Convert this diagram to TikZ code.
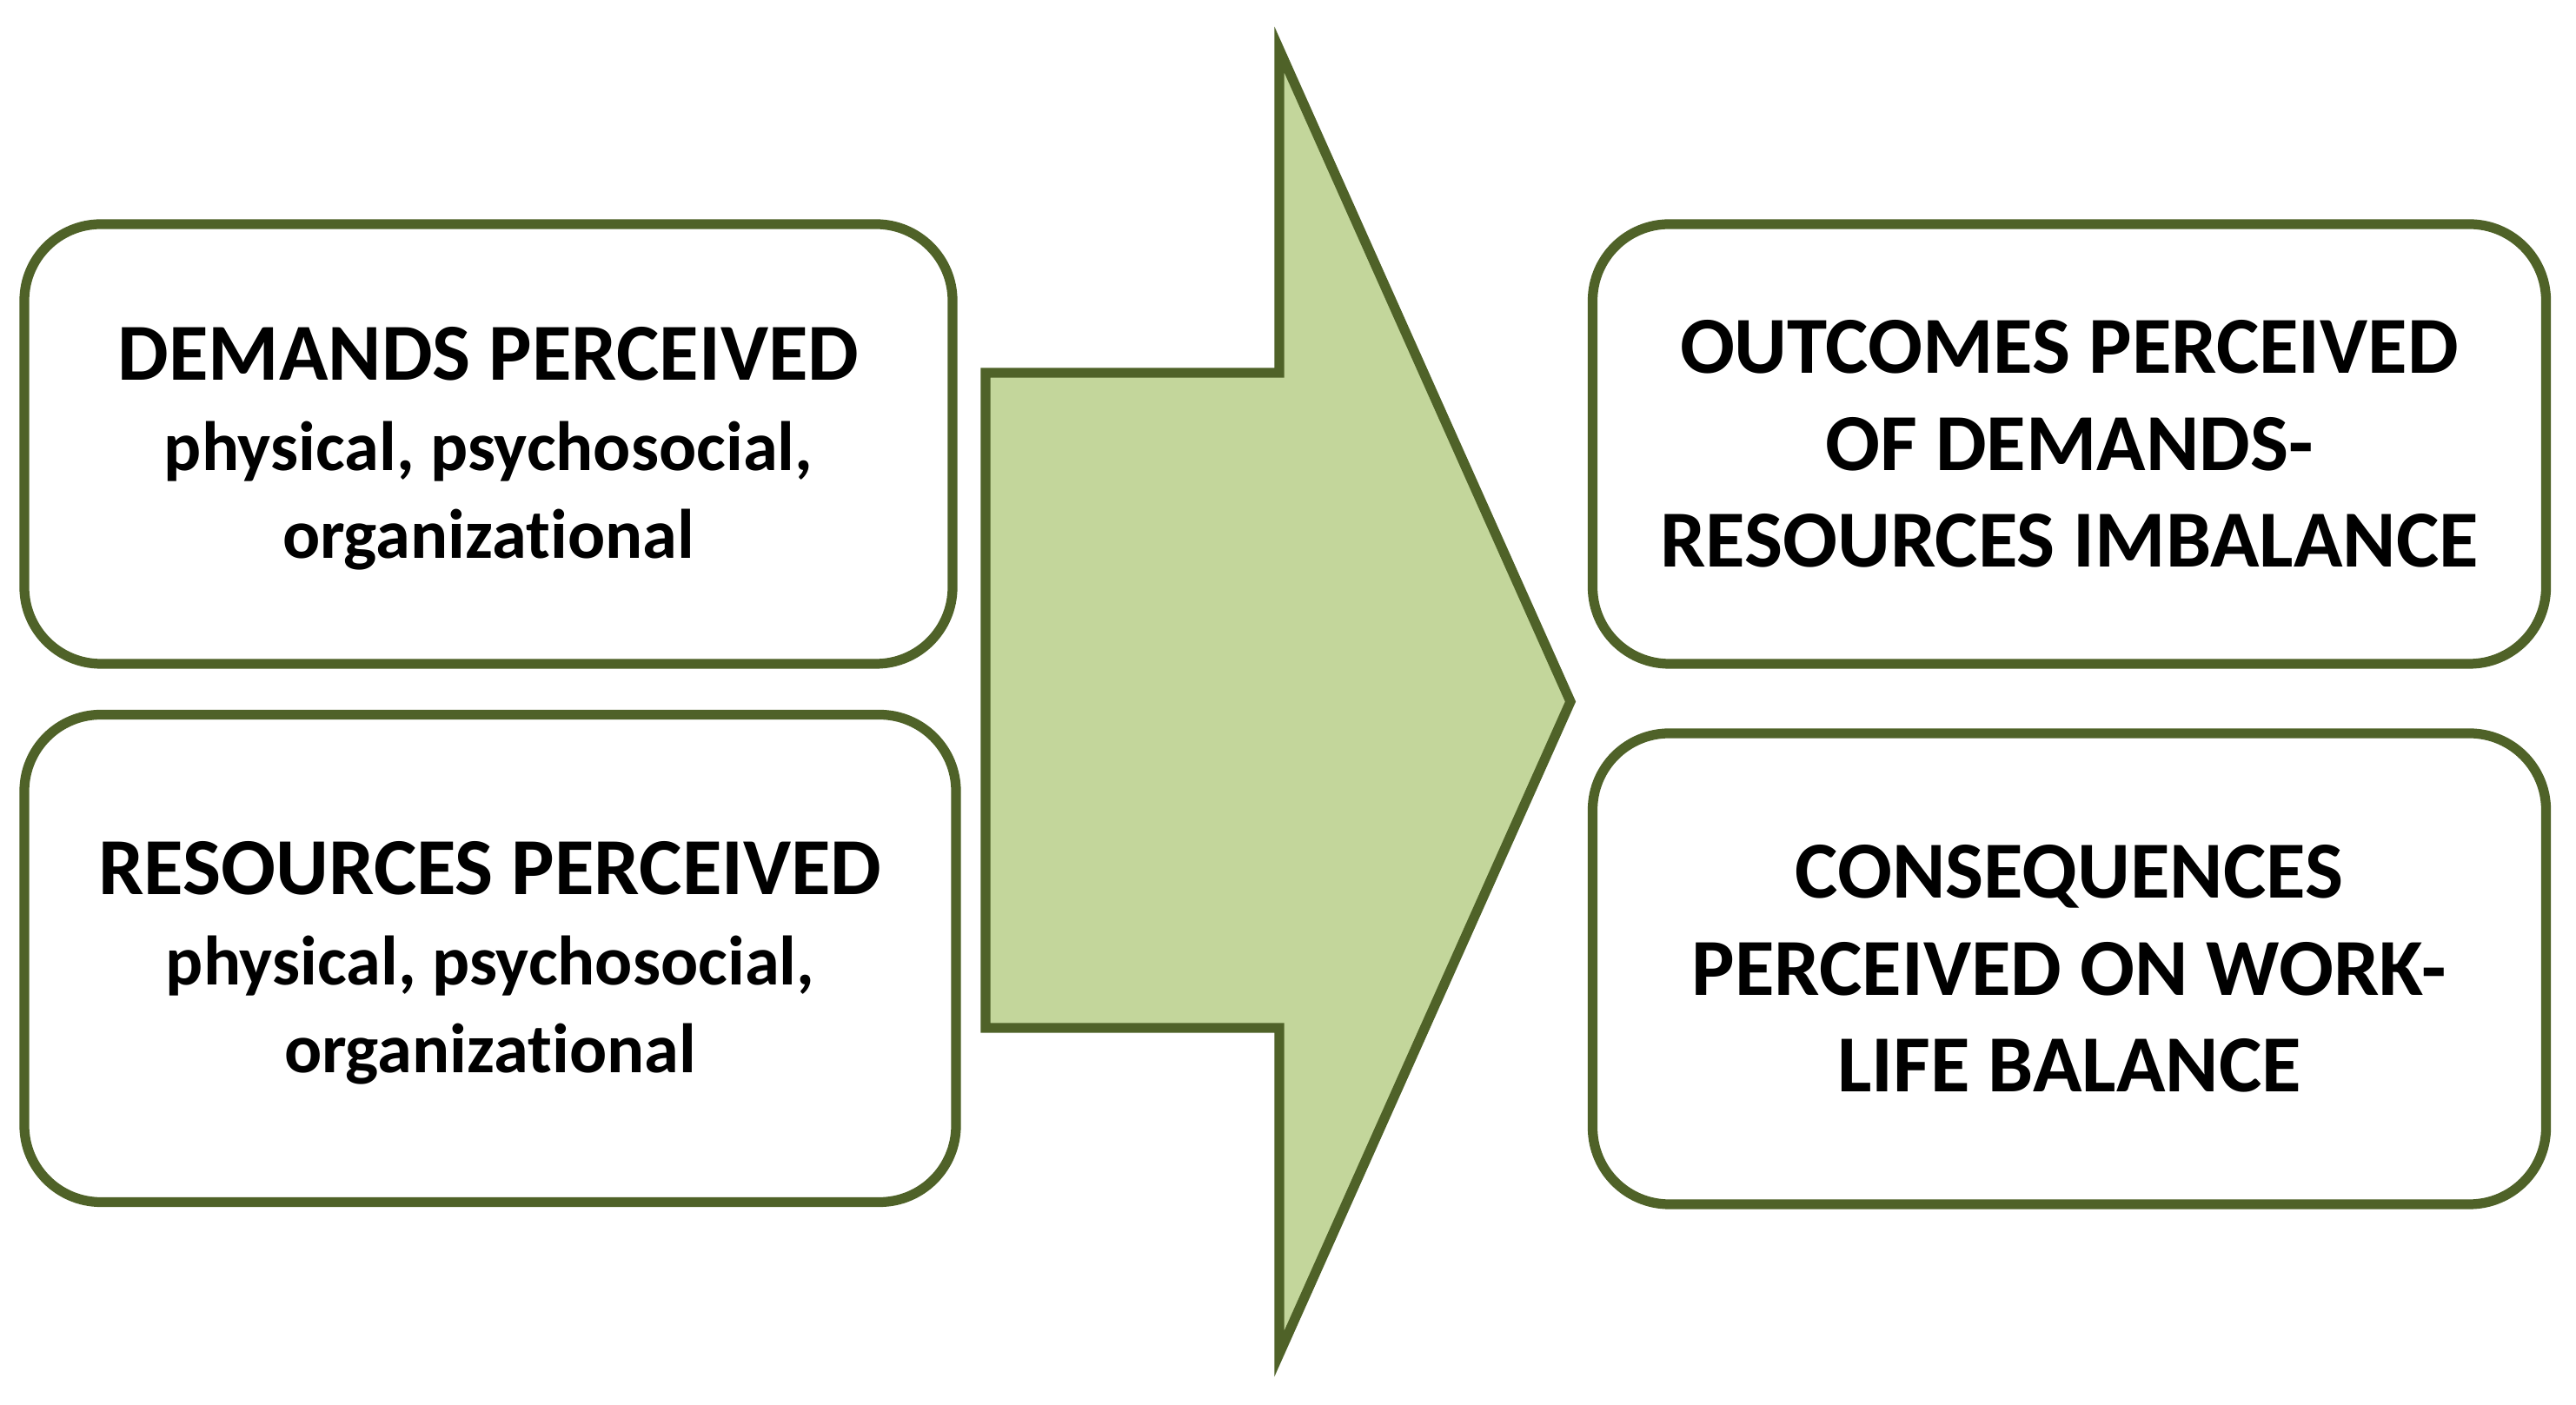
\documentclass[tikz,border=0pt]{standalone}
\usepackage{fontspec}
\setmainfont{Carlito}[Ligatures=NoCommon]
\usetikzlibrary{positioning}
\definecolor{verdeborde}{HTML}{4F6228}
\definecolor{verderelleno}{HTML}{C3D69B}
\tikzset{
	caja/.style={draw=verdeborde, line width=3.2pt, fill=white, rounded corners=0.88cm, inner sep=0pt, align=center}, % Cajas redondeadas
	flecha/.style={draw=verdeborde, line width=3.2pt, fill=verderelleno, line join=miter}, % Flecha central
	titulo/.style={font=\fontsize{26.5}{31.8}\selectfont\bfseries}, % Texto grande de las cajas
	detalle/.style={font=\fontsize{22.9}{28.6}\selectfont\bfseries} % Texto de las cajas de la izquierda
}

\begin{document}
\begin{tikzpicture}
				\useasboundingbox (0,0) rectangle (29.64,16.17);
				% flecha
				\draw[flecha] (11.34,11.88) -- (14.72,11.88) -- (14.72,15.60) -- (18.07,8.095)
					-- (14.72,0.59) -- (14.72,4.34) -- (11.34,4.34) -- cycle;
				% entradas
				\node[caja, detalle, minimum width=10.68cm, minimum height=5.06cm] (dem) at (5.62,11.06)
					{\rule{0pt}{0.72cm}{\fontsize{26.5}{28.6}\selectfont DEMANDS PERCEIVED}\\[1pt] physical, psychosocial,\\ organizational};
				\node[caja, detalle, minimum width=10.72cm, minimum height=5.61cm] (rec) at (5.64,5.14)
					{\rule{0pt}{0.72cm}{\fontsize{26.5}{28.6}\selectfont RESOURCES PERCEIVED}\\[1pt] physical, psychosocial,\\ organizational};
				% salidas
				\node[caja, titulo, minimum width=10.97cm, minimum height=5.06cm] (res) at (23.81,11.06)
					{OUTCOMES PERCEIVED\\ OF DEMANDS-\\ RESOURCES IMBALANCE};
				\node[caja, titulo, minimum width=10.97cm, minimum height=5.42cm] (cons) at (23.81,5.02)
					{CONSEQUENCES\\ PERCEIVED ON WORK-\\ LIFE BALANCE};
\end{tikzpicture}
\end{document}
